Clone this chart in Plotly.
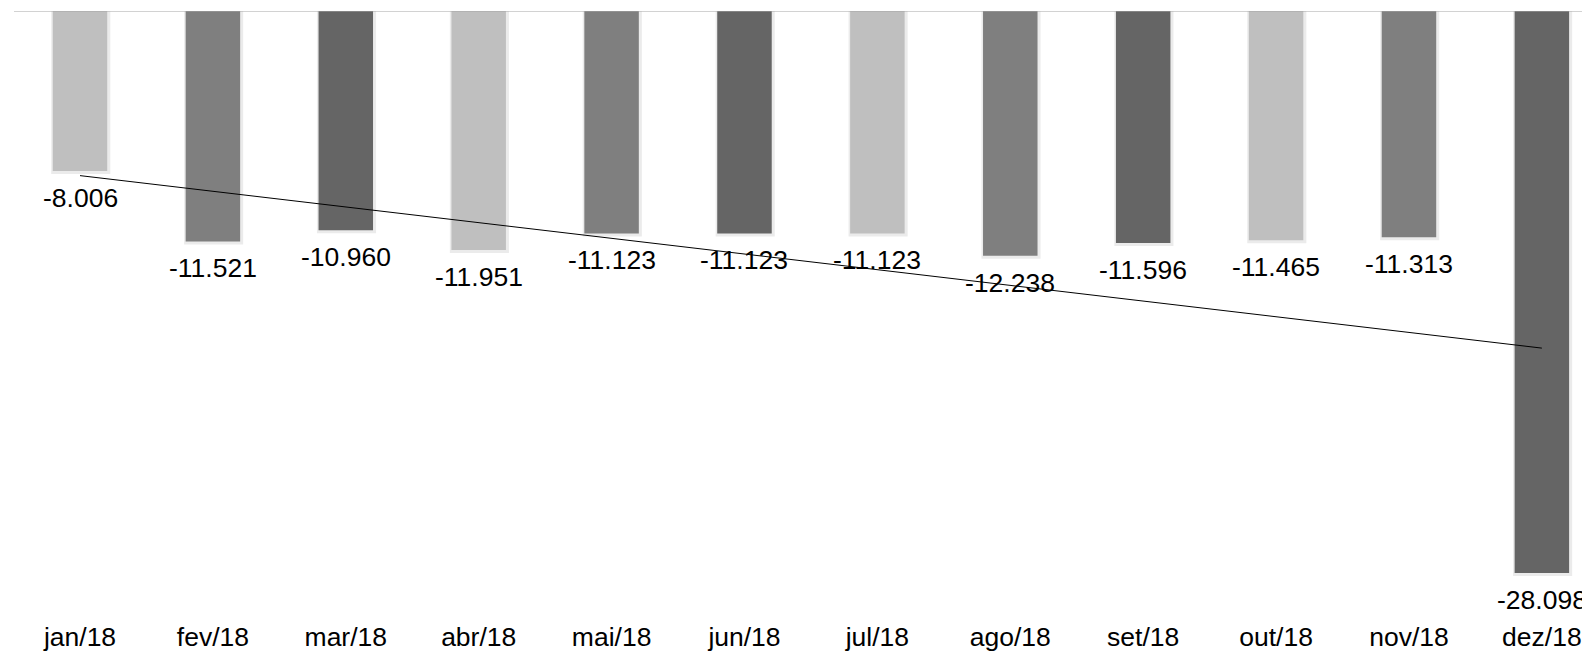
import numpy as np
import plotly.graph_objects as go

categories = ["jan/18", "fev/18", "mar/18", "abr/18", "mai/18", "jun/18",
              "jul/18", "ago/18", "set/18", "out/18", "nov/18", "dez/18"]
values = [-8.006, -11.521, -10.960, -11.951, -11.123, -11.123,
          -11.123, -12.238, -11.596, -11.465, -11.313, -28.098]
labels = ["-8.006", "-11.521", "-10.960", "-11.951", "-11.123", "-11.123",
          "-11.123", "-12.238", "-11.596", "-11.465", "-11.313", "-28.098"]
palette = ["#bfbfbf", "#7f7f7f", "#656565"]

colors = [palette[i % 3] for i in range(len(categories))]
idx = np.arange(len(categories))
slope, intercept = np.polyfit(idx, values, 1)
trend = slope * idx + intercept

FONT = "Liberation Sans, Arial, sans-serif"
FS = 26.5
BW = 0.41

fig = go.Figure()
# soft shadow behind bars
fig.add_trace(go.Bar(x=categories, y=[v - 0.15 for v in values],
                     marker=dict(color="rgba(0,0,0,0.08)", line=dict(width=0)),
                     width=BW + 0.035, offset=-BW / 2 - 0.012,
                     hoverinfo="skip", showlegend=False))
fig.add_trace(go.Bar(x=categories, y=values, marker=dict(color=colors, line=dict(width=0)),
                     width=BW, offset=-BW / 2, hoverinfo="skip", showlegend=False))
fig.add_trace(go.Scatter(x=categories, y=list(trend), mode="lines",
                         line=dict(color="black", width=1), showlegend=False,
                         hoverinfo="skip"))

for c, v, t in zip(categories, values, labels):
    fig.add_annotation(x=c, y=v, text=t, showarrow=False, yanchor="middle",
                       yshift=-27, font=dict(family=FONT, size=FS, color="black"))

fig.add_shape(type="line", xref="paper", x0=0, x1=1, yref="y", y0=0, y1=0,
              line=dict(color="#a6a6a6", width=1))

fig.update_layout(
    width=1582, height=660,
    margin=dict(l=14, r=0, t=11, b=42, pad=0),
    plot_bgcolor="white", paper_bgcolor="white",
    font=dict(family=FONT, size=FS, color="black"),
    barmode="overlay",
)
fig.update_xaxes(type="category", range=[-0.4966, 11.302], showgrid=False, showline=False,
                 ticks="", tickfont=dict(size=FS), zeroline=False)
fig.update_yaxes(range=[-30.35, 0], visible=False, showgrid=False, zeroline=False)

fig.write_html("out.html", config={"displayModeBar": False},
               post_script="document.body.style.margin='0';document.body.style.overflow='hidden';")
